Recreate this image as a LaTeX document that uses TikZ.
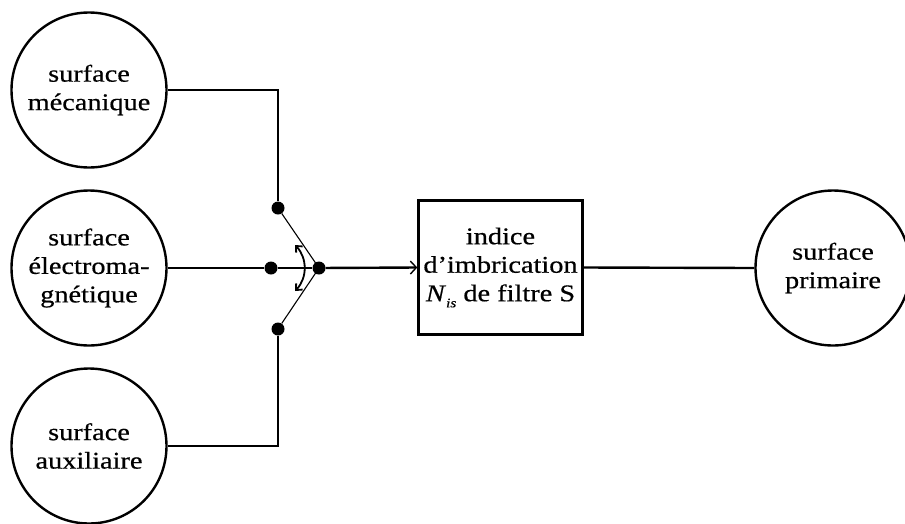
\documentclass[tikz,border=0pt]{standalone}
\usepackage{fontspec}
\setmainfont[FakeStretch=1.18, FakeBold=0.6]{Liberation Serif}
\usetikzlibrary{arrows.meta}
\begin{document}
\begin{tikzpicture}[x=1pt, y=-1pt, surfStyle/.style={circle, draw, line width=2.4pt, inner sep=0pt, minimum size=155pt, align=center}, boxStyle/.style={rectangle, draw, line width=2.4pt, minimum width=164pt, minimum height=134pt, align=center}, dotStyle/.style={circle, fill, inner sep=0pt, minimum size=13pt}, wireStyle/.style={line width=2.4pt}, armStyle/.style={line width=1.1pt}, font=\fontsize{24}{28.5}\selectfont]
                    \useasboundingbox (0,0) rectangle (905,523);
                    \node[surfStyle] (mec)  at ( 89,  90) {surface\\mécanique};
                    \node[surfStyle] (elec) at ( 89, 268) {surface\\électroma-\\gnétique};
                    \node[surfStyle] (aux)  at ( 89, 446) {surface\\auxiliaire};
                    \node[surfStyle] (prim) at (833, 268) {surface\\primaire};
                    \node[boxStyle]  (filt) at (500.5, 267.5) {indice\\d’imbrication\\\textit{N}\raisebox{-0.55ex}{\fontsize{13}{13}\selectfont\itshape is} de filtre S};
                    \node[dotStyle]  (swTop)   at (278, 208) {};
                    \node[dotStyle]  (swMid)   at (271, 268) {};
                    \node[dotStyle]  (swPivot) at (319, 268) {};
                    \node[dotStyle]  (swBot)   at (278, 329) {};
                    \coordinate (armA) at (295, 245);
                    \coordinate (armB) at (295, 291);
                    % wires
                    \draw[wireStyle] (mec.east) -| (swTop);
                    \draw[wireStyle] (aux.east) -| (swBot);
                    \draw[wireStyle] (elec.east) -- (swMid) -- (swPivot);
                    \draw[wireStyle, -{Straight Barb[length=6pt, width=13pt, line width=1.4pt]}] (swPivot) -- (filt.west);
                    \draw[wireStyle] (filt.east) -- (prim.west);
                    % switch
                    \draw[armStyle] (swTop) -- (swPivot.center) -- (swBot);
                    \draw[line width=1.8pt, {Straight Barb[length=5pt, width=9pt]}-{Straight Barb[length=5pt, width=9pt]}] (armA) to[bend left=44] (armB);
                \end{tikzpicture}
\end{document}
